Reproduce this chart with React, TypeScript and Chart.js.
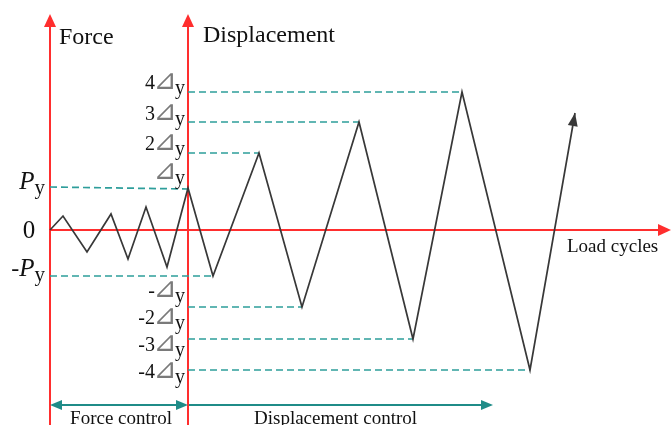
import React, { useEffect, useRef } from "react";
import { Chart, registerables } from "chart.js";

Chart.register(...registerables);

// ---- Data (arbitrary schematic units: x = load-cycle time, y = amplitude) ----
const cycleX = [0, 1.3, 3.7, 6.1, 7.8, 9.6, 11.7, 13.8, 16.3, 20.9, 25.2, 30.9, 36.3, 41.2, 48.0, 52.5];
const cycleY = [0, 1.4, -2.2, 1.6, -2.9, 2.3, -3.7, 4.2, -4.6, 7.7, -7.7, 10.8, -10.9, 13.8, -14.0, 11.7];

const switchX = 13.8; // force control -> displacement control
const axisTopY = 21.6;
const axisBottomY = -19.5;
const axisEndX = 62.1;

// dashed guide lines (Py, -Py, 2Δy, 3Δy, 4Δy, -2Δy, -3Δy, -4Δy)
const guideFromX = [0, 0, 13.8, 13.8, 13.8, 13.8, 13.8, 13.8];
const guideToX = [13.8, 16.3, 20.9, 30.9, 41.2, 25.2, 36.3, 48.0];
const guideFromY = [4.3, -4.6, 7.7, 10.8, 13.8, -7.7, -10.9, -14.0];
const guideToY = [4.1, -4.6, 7.7, 10.8, 13.8, -7.7, -10.9, -14.0];

// displacement level labels
const dispPrefixes = ["4", "3", "2", "", "-", "-2", "-3", "-4"];
const dispLabelY = [14.1, 11.0, 8.0, 5.1, -6.7, -9.4, -12.1, -14.8];

// force level labels
const forcePrefixes = ["", "-"];
const forceLabelY = [4.1, -4.6];

// control-phase arrows
const controlY = -17.5;
const controlEndX = 44.3;
const controlLabels = ["Force control", "Displacement control"];

const axisTitles = ["Force", "Displacement", "Load cycles"];

const X_MIN = -5;
const X_MAX = 62.2;
const Y_MIN = -19.5;
const Y_MAX = 23.0;

const RED = "#ff2e2e";
const TEAL = "#2e9e9b";
const TEAL_DARK = "#1f8c88";
const LINE = "#383838";
const SERIF = "'Liberation Serif', 'Times New Roman', serif";

type Part = { text: string; font: string; color?: string; dy?: number; tight?: boolean; gap?: number };

function seg(x1: number, y1: number, x2: number, y2: number) {
  return [
    { x: x1, y: y1 },
    { x: x2, y: y2 },
  ];
}

export default function App() {
  const ref = useRef<HTMLCanvasElement | null>(null);

  useEffect(() => {
    if (!ref.current) return;

    const arrowHead = (
      ctx: CanvasRenderingContext2D,
      fx: number,
      fy: number,
      tx: number,
      ty: number,
      len: number,
      hw: number,
      color: string
    ) => {
      const a = Math.atan2(ty - fy, tx - fx);
      const bx = tx - Math.cos(a) * len;
      const by = ty - Math.sin(a) * len;
      const nx = -Math.sin(a);
      const ny = Math.cos(a);
      ctx.beginPath();
      ctx.moveTo(tx, ty);
      ctx.lineTo(bx + nx * hw, by + ny * hw);
      ctx.lineTo(bx - nx * hw, by - ny * hw);
      ctx.closePath();
      ctx.fillStyle = color;
      ctx.fill();
    };

    const drawParts = (ctx: CanvasRenderingContext2D, parts: Part[], x: number, y: number, align: "left" | "right" | "center") => {
      ctx.textAlign = "left";
      ctx.textBaseline = "alphabetic";
      const metrics = parts.map((p) => {
        ctx.font = p.font;
        const m = ctx.measureText(p.text);
        const g = p.gap || 0;
        if (p.tight) {
          const left = m.actualBoundingBoxLeft;
          const ink = m.actualBoundingBoxLeft + m.actualBoundingBoxRight;
          return { w: ink + 2 * g, off: left + g };
        }
        return { w: m.width, off: 0 };
      });
      const total = metrics.reduce((s, m) => s + m.w, 0);
      let cx = align === "left" ? x : align === "right" ? x - total : x - total / 2;
      parts.forEach((p, i) => {
        ctx.font = p.font;
        ctx.fillStyle = p.color || "#111";
        ctx.fillText(p.text, cx + metrics[i].off, y + (p.dy || 0));
        cx += metrics[i].w;
      });
    };

    const overlay = {
      id: "overlay",
      afterDatasetsDraw(chart: any) {
        const ctx: CanvasRenderingContext2D = chart.ctx;
        const xs = chart.scales.x;
        const ys = chart.scales.y;
        const px = (v: number) => xs.getPixelForValue(v);
        const py = (v: number) => ys.getPixelForValue(v);
        ctx.save();

        // red axis arrowheads
        arrowHead(ctx, px(0), py(0), px(0), py(axisTopY), 13, 6, RED);
        arrowHead(ctx, px(switchX), py(0), px(switchX), py(axisTopY), 13, 6, RED);
        arrowHead(ctx, px(0), py(0), px(axisEndX), py(0), 13, 6, RED);

        // zigzag end arrow
        const n = cycleX.length;
        arrowHead(ctx, px(cycleX[n - 2]), py(cycleY[n - 2]), px(cycleX[n - 1]), py(cycleY[n - 1]), 13, 5, LINE);

        // control arrows
        arrowHead(ctx, px(switchX), py(controlY), px(0), py(controlY), 12, 5, TEAL_DARK);
        arrowHead(ctx, px(0), py(controlY), px(switchX), py(controlY), 12, 5, TEAL_DARK);
        arrowHead(ctx, px(switchX), py(controlY), px(controlEndX), py(controlY), 12, 5, TEAL_DARK);

        // axis titles
        drawParts(ctx, [{ text: axisTitles[0], font: `24px ${SERIF}` }], px(0.9), py(18.6), "left");
        drawParts(ctx, [{ text: axisTitles[1], font: `24px ${SERIF}` }], px(15.3), py(18.8), "left");
        drawParts(ctx, [{ text: axisTitles[2], font: `19px ${SERIF}` }], px(51.7), py(-2.2), "left");

        // control labels
        drawParts(ctx, [{ text: controlLabels[0], font: `19px ${SERIF}` }], px(switchX / 2 + 0.2), py(-19.4), "center");
        drawParts(ctx, [{ text: controlLabels[1], font: `19px ${SERIF}` }], px((switchX + controlEndX) / 2 - 0.5), py(-19.4), "center");

        // force labels
        forcePrefixes.forEach((pre, i) => {
          const parts: Part[] = [];
          if (pre) parts.push({ text: pre, font: `24px ${SERIF}` });
          parts.push({ text: "P", font: `italic 25px ${SERIF}` });
          parts.push({ text: "y", font: `21px ${SERIF}`, dy: 5 });
          drawParts(ctx, parts, px(-0.5), py(forceLabelY[i]), "right");
        });
        ctx.font = `25px ${SERIF}`;
        ctx.fillStyle = "#111";
        ctx.textAlign = "center";
        ctx.textBaseline = "middle";
        ctx.fillText("0", px(-2.1), py(0) + 1);

        // displacement labels
        dispPrefixes.forEach((pre, i) => {
          const parts: Part[] = [];
          if (pre) parts.push({ text: pre, font: `20px ${SERIF}` });
          parts.push({ text: "\u22BF", font: `italic 28px 'DejaVu Sans', sans-serif`, color: "#7a7a7a", tight: true, gap: 1.5 });
          parts.push({ text: "y", font: `20px ${SERIF}`, dy: 5 });
          drawParts(ctx, parts, px(13.5), py(dispLabelY[i]), "right");
        });

        ctx.restore();
      },
    };

    const guideSets = guideFromX.map((_, i) => ({
      data: seg(guideFromX[i], guideFromY[i], guideToX[i], guideToY[i]),
      borderColor: TEAL,
      borderWidth: 1.7,
      borderDash: [7, 4],
      pointRadius: 0,
      showLine: true,
    }));

    const chart = new Chart(ref.current, {
      type: "scatter",
      data: {
        datasets: [
          {
            data: cycleX.map((x, i) => ({ x, y: cycleY[i] })),
            borderColor: LINE,
            borderWidth: 1.7,
            pointRadius: 0,
            showLine: true,
          },
          ...guideSets,
          {
            data: seg(0, axisBottomY, 0, axisTopY - 0.8),
            borderColor: RED,
            borderWidth: 2,
            pointRadius: 0,
            showLine: true,
          },
          {
            data: seg(switchX, axisBottomY, switchX, axisTopY - 0.8),
            borderColor: RED,
            borderWidth: 2,
            pointRadius: 0,
            showLine: true,
          },
          {
            data: seg(0, 0, axisEndX - 0.8, 0),
            borderColor: RED,
            borderWidth: 2,
            pointRadius: 0,
            showLine: true,
          },
          {
            data: seg(0.6, controlY, switchX - 0.6, controlY),
            borderColor: TEAL_DARK,
            borderWidth: 2,
            pointRadius: 0,
            showLine: true,
          },
          {
            data: seg(switchX, controlY, controlEndX - 0.6, controlY),
            borderColor: TEAL_DARK,
            borderWidth: 2,
            pointRadius: 0,
            showLine: true,
          },
        ],
      },
      options: {
        animation: false,
        responsive: false,
        maintainAspectRatio: false,
        layout: { padding: 0 },
        elements: { line: { tension: 0 } },
        plugins: {
          legend: { display: false },
          tooltip: { enabled: false },
        },
        scales: {
          x: { type: "linear", min: X_MIN, max: X_MAX, display: false },
          y: { type: "linear", min: Y_MIN, max: Y_MAX, display: false },
        },
      },
      plugins: [overlay],
    });

    return () => chart.destroy();
  }, []);

  return (
    <div style={{ position: "absolute", left: 0, top: 0, width: 672, height: 425, background: "#fff" }}>
      <canvas ref={ref} width={672} height={425} style={{ width: 672, height: 425, display: "block" }} />
    </div>
  );
}
